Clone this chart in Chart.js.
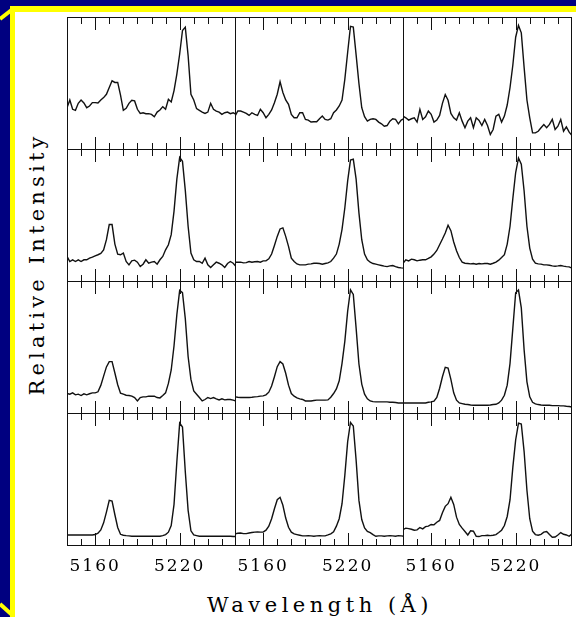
<!DOCTYPE html>
<html>
<head>
<meta charset="utf-8">
<script src="https://cdn.jsdelivr.net/npm/chart.js@4.4.1/dist/chart.umd.min.js"></script>
<style>
  html, body { margin: 0; padding: 0; }
  body { width: 576px; height: 617px; background: #000080; position: relative; overflow: hidden; }
  #frame { position: absolute; left: 10px; top: 6px; right: 0; bottom: 0; background: #ffff00; }
  #sheet { position: absolute; left: 15px; top: 12px; right: 0; bottom: 0; background: #ffffff; }
  .slash { position: absolute; height: 4px; background: #ffff00; transform-origin: 0 50%; }
  #panels { position: absolute; left: 67px; top: 17px; }
  #panels canvas { position: absolute; }
  .title { position: absolute; font-family: 'DejaVu Serif', serif; font-size: 21px; line-height: 1;
    white-space: nowrap; color: #000; }
  #ytitle { left: 37px; top: 264px; letter-spacing: 4.2px; transform: translate(-50%, -50%) rotate(-90deg); }
  #xtitle { left: 320px; top: 605px; letter-spacing: 4.5px; transform: translate(-50%, -50%); }
</style>
</head>
<body>
<div id="frame"></div>
<div id="sheet"></div>
<div class="slash" style="left:0;top:17px;width:15px;transform:rotate(-38deg)"></div>
<div class="slash" style="left:0;top:602px;width:16px;transform:rotate(42deg)"></div>
<div id="panels"></div>
<div class="title" id="ytitle">Relative Intensity</div>
<div class="title" id="xtitle">Wavelength (Å)</div>
<script>
'use strict'
//
;(function () {
  // wavelength grid (Å) shared by every panel
  const wavelengths = [
    5140, 5142, 5144, 5146, 5148, 5150, 5152, 5154, 5156, 5158,
    5160, 5162, 5164, 5166, 5168, 5170, 5172, 5174, 5176, 5178,
    5180, 5182, 5184, 5186, 5188, 5190, 5192, 5194, 5196, 5198,
    5200, 5202, 5204, 5206, 5208, 5210, 5212, 5214, 5216, 5218,
    5220, 5222, 5224, 5226, 5228, 5230, 5232, 5234, 5236, 5238,
    5240, 5242, 5244, 5246, 5248, 5250, 5252, 5254, 5256, 5258, 5260
  ]

  const minorTicks = [5150, 5160, 5170, 5180, 5190, 5200, 5210, 5220, 5230, 5240, 5250]
  const majorTicks = [5160, 5220]

  // relative intensity, row by row (top to bottom), column by column
  const r1c1 = [
    31.8, 37.6, 30.6, 29.8, 35.1, 37.6, 35.4, 31.8, 33.1, 35.6,
    35.6, 35.4, 37.6, 39.4, 41.9, 47.0, 52.0, 50.8, 50.8, 41.2,
    29.8, 31.3, 35.1, 37.4, 36.9, 30.6, 27.5, 28.0, 27.3, 27.3,
    26.8, 25.0, 28.5, 30.1, 32.6, 30.6, 38.1, 36.1, 44.7, 57.0,
    72.2, 89.9, 92.4, 71.0, 41.9, 37.6, 31.1, 29.8, 28.5, 27.5,
    28.5, 35.1, 30.6, 29.3, 28.5, 26.8, 28.0, 28.5, 27.3, 28.0, 26.8
  ]
  const r1c2 = [
    25.5, 29.3, 29.3, 28.5, 27.5, 26.0, 28.0, 26.8, 26.0, 30.6,
    28.0, 24.2, 26.8, 30.1, 35.6, 41.9, 51.3, 43.2, 37.6, 34.3,
    26.8, 24.2, 24.2, 28.0, 28.0, 23.0, 22.5, 21.0, 21.2, 21.2,
    23.5, 25.5, 23.0, 22.5, 23.5, 28.0, 30.1, 33.1, 37.6, 53.3,
    73.5, 92.9, 92.4, 71.5, 50.0, 31.8, 25.0, 21.7, 23.0, 23.5,
    23.0, 21.0, 19.7, 17.9, 18.4, 21.7, 23.5, 23.0, 19.7, 22.5, 23.5
  ]
  const r1c3 = [
    25.5, 24.2, 22.5, 23.5, 24.2, 21.0, 30.6, 23.0, 25.0, 29.3,
    26.8, 21.0, 22.5, 26.0, 35.1, 41.7, 37.4, 27.5, 24.2, 22.5,
    28.0, 21.7, 16.7, 21.7, 24.2, 16.7, 24.2, 22.2, 18.4, 23.0,
    18.4, 11.6, 15.4, 25.5, 26.8, 21.0, 25.5, 33.8, 47.0, 63.9,
    84.8, 93.7, 88.1, 62.1, 37.6, 24.2, 12.9, 12.9, 14.1, 16.7,
    19.2, 16.7, 19.2, 23.0, 15.4, 17.9, 23.0, 14.1, 17.4, 13.4, 10.9
  ]
  const r2c1 = [
    19.2, 15.4, 16.7, 15.4, 16.7, 15.4, 16.7, 16.7, 17.9, 18.7,
    19.7, 20.5, 21.5, 24.2, 31.8, 43.2, 43.2, 28.5, 21.0, 20.5,
    21.7, 15.4, 12.9, 15.9, 16.4, 14.9, 11.6, 13.4, 16.7, 14.1,
    14.9, 15.4, 13.4, 16.7, 19.2, 24.2, 28.0, 35.6, 53.3, 77.3,
    93.7, 90.7, 68.9, 41.9, 21.7, 16.7, 15.4, 15.4, 14.1, 17.9,
    12.9, 10.9, 12.9, 14.9, 14.1, 12.9, 10.9, 13.9, 15.4, 14.1, 11.6
  ]
  const r2c2 = [
    14.9, 14.9, 14.9, 14.4, 14.6, 15.4, 14.9, 15.2, 15.4, 14.9,
    15.9, 15.9, 17.4, 21.0, 27.5, 34.3, 39.9, 40.7, 34.3, 26.8,
    17.9, 15.4, 13.6, 12.9, 12.9, 12.9, 13.4, 13.6, 14.1, 14.1,
    13.9, 13.4, 13.9, 14.4, 15.4, 17.9, 21.0, 28.5, 39.6, 55.8,
    76.0, 91.7, 92.4, 77.3, 52.0, 31.8, 21.0, 16.7, 14.9, 13.9,
    13.4, 12.9, 12.4, 11.9, 11.6, 12.1, 12.4, 11.6, 10.9, 10.6, 10.4
  ]
  const r2c3 = [
    14.1, 16.7, 15.9, 17.2, 16.7, 15.9, 16.4, 16.7, 16.7, 17.7,
    18.9, 21.0, 23.7, 28.0, 32.3, 36.9, 42.7, 38.6, 30.1, 23.5,
    18.4, 14.9, 14.1, 13.9, 13.6, 13.9, 13.4, 13.9, 13.6, 13.9,
    13.9, 13.4, 14.1, 14.9, 16.4, 18.4, 20.5, 28.5, 41.9, 62.9,
    82.3, 93.2, 88.6, 68.4, 41.9, 25.5, 17.2, 14.1, 13.6, 13.4,
    12.9, 12.9, 12.6, 12.1, 11.9, 12.1, 12.4, 11.9, 11.6, 11.4, 10.4
  ]
  const r3c1 = [
    15.4, 14.9, 15.9, 14.4, 14.9, 13.9, 15.2, 14.4, 15.2, 15.9,
    15.9, 16.7, 21.5, 28.5, 35.4, 39.4, 39.4, 30.8, 22.0, 15.7,
    14.9, 14.1, 13.9, 13.4, 12.4, 9.8, 12.4, 12.9, 12.9, 13.4,
    13.4, 13.4, 12.4, 12.1, 13.9, 15.9, 23.0, 33.1, 51.3, 74.7,
    92.9, 91.2, 71.7, 43.2, 26.0, 17.4, 14.9, 12.4, 9.8, 10.9,
    12.4, 11.6, 12.4, 11.4, 10.6, 11.4, 10.6, 10.9, 10.9, 10.4, 9.8
  ]
  const r3c2 = [
    12.9, 12.6, 12.4, 12.4, 12.4, 12.4, 12.6, 12.9, 13.1, 13.4,
    13.6, 14.4, 16.4, 21.0, 28.0, 35.6, 39.4, 37.6, 30.6, 21.7,
    15.4, 13.4, 12.1, 11.4, 10.9, 9.8, 9.8, 9.8, 10.1, 10.4,
    10.4, 10.4, 10.4, 10.6, 12.6, 15.4, 18.9, 25.0, 38.1, 54.8,
    77.3, 93.4, 89.9, 64.6, 37.6, 22.5, 14.9, 11.4, 9.8, 9.3,
    9.1, 9.1, 9.1, 9.1, 9.1, 8.8, 8.8, 8.6, 8.3, 8.3, 8.3
  ]
  const r3c3 = [
    8.3, 8.3, 8.3, 8.3, 8.3, 8.3, 8.3, 8.3, 8.3, 8.8,
    9.1, 9.6, 12.4, 19.4, 28.0, 35.1, 34.6, 26.0, 15.9, 10.4,
    8.3, 7.8, 7.3, 7.1, 6.8, 6.6, 6.6, 6.6, 6.6, 6.6,
    6.6, 6.8, 7.1, 7.3, 8.3, 10.4, 14.1, 21.7, 38.1, 64.6,
    91.2, 93.2, 79.8, 48.2, 24.2, 12.9, 8.8, 7.6, 7.1, 6.8,
    6.6, 6.6, 6.6, 6.3, 6.3, 6.3, 6.1, 6.1, 5.8, 5.6, 5.3
  ]
  const r4c1 = [
    8.3, 8.3, 8.3, 8.3, 8.3, 8.3, 8.3, 8.3, 8.3, 8.3,
    8.6, 9.6, 12.1, 17.4, 25.5, 34.3, 33.8, 23.5, 13.9, 8.8,
    8.1, 7.8, 7.6, 7.3, 7.3, 7.3, 7.3, 7.3, 7.3, 7.3,
    7.3, 7.3, 7.3, 7.3, 7.8, 8.6, 10.4, 15.4, 31.3, 63.4,
    92.4, 89.4, 55.8, 26.8, 11.4, 8.3, 7.8, 7.3, 7.3, 7.3,
    7.3, 7.3, 7.3, 7.3, 7.3, 7.3, 7.3, 7.3, 7.3, 7.1, 7.1
  ]
  const r4c2 = [
    9.1, 9.6, 9.8, 9.3, 9.3, 9.8, 10.1, 10.4, 10.6, 10.4,
    10.4, 11.9, 14.9, 20.5, 28.0, 34.8, 36.6, 30.6, 21.0, 14.1,
    10.4, 9.1, 8.6, 8.1, 7.6, 7.6, 7.8, 7.6, 7.3, 7.6,
    7.8, 7.6, 7.6, 8.3, 9.1, 10.6, 14.9, 20.5, 31.8, 53.3,
    78.5, 92.9, 90.2, 64.6, 34.3, 19.9, 13.6, 10.9, 10.1, 8.6,
    7.3, 7.6, 7.6, 7.3, 7.6, 7.8, 7.6, 7.3, 7.8, 7.6, 7.3
  ]
  const r4c3 = [
    12.4, 13.4, 13.1, 12.6, 11.9, 12.1, 13.9, 12.9, 14.6, 14.9,
    16.2, 15.9, 17.9, 19.2, 25.0, 29.8, 31.8, 36.6, 31.3, 21.7,
    16.2, 13.4, 10.9, 8.3, 11.4, 11.1, 7.3, 7.1, 7.8, 7.8,
    8.1, 7.8, 8.1, 8.6, 10.1, 11.9, 15.4, 22.2, 34.8, 59.3,
    79.8, 92.4, 91.7, 71.0, 41.9, 20.5, 11.1, 8.6, 8.1, 8.8,
    10.4, 10.9, 8.6, 6.6, 6.8, 8.3, 10.1, 8.8, 8.3, 7.3, 9.1
  ]

  const panels = [
    [r1c1, r1c2, r1c3],
    [r2c1, r2c2, r2c3],
    [r3c1, r3c2, r3c3],
    [r4c1, r4c2, r4c3]
  ]

  const PANEL_W = 168
  const PANEL_H = 132
  const AXIS_H = 32
  const serif = 'DejaVu Serif'

  // box + inward tick marks on top and bottom edges of every panel
  const frameTicks = {
    id: 'frameTicks',
    beforeDraw(chart) {
      chart.ctx.letterSpacing = '2px'
    },
    afterDraw(chart) {
      const { ctx, chartArea: a, scales: { x } } = chart
      ctx.save()
      ctx.strokeStyle = '#111'
      ctx.lineWidth = 1
      ctx.strokeRect(a.left + 0.5, a.top + 0.5, a.width - 1, a.height - 1)
      ctx.beginPath()
      minorTicks.forEach((v) => {
        const px = Math.round(x.getPixelForValue(v)) + 0.5
        const len = majorTicks.includes(v) ? 13 : 7
        ctx.moveTo(px, a.top)
        ctx.lineTo(px, a.top + len)
        ctx.moveTo(px, a.bottom)
        ctx.lineTo(px, a.bottom - len)
      })
      ctx.stroke()
      ctx.restore()
    }
  }

  const holder = document.getElementById('panels')

  panels.forEach((row, r) => {
    row.forEach((values, c) => {
      const isBottom = r === panels.length - 1
      const canvas = document.createElement('canvas')
      canvas.width = PANEL_W + 1
      canvas.height = PANEL_H + 1 + (isBottom ? AXIS_H : 0)
      canvas.style.left = c * PANEL_W + 'px'
      canvas.style.top = r * PANEL_H + 'px'
      holder.appendChild(canvas)

      new Chart(canvas, {
        type: 'line',
        data: {
          datasets: [
            {
              data: wavelengths.map((w, i) => ({ x: w, y: values[i] })),
              borderColor: '#111',
              borderWidth: 1.4,
              pointRadius: 0,
              tension: 0
            }
          ]
        },
        options: {
          responsive: false,
          animation: false,
          events: [],
          layout: { padding: 0 },
          plugins: {
            legend: { display: false },
            tooltip: { enabled: false }
          },
          scales: {
            x: {
              type: 'linear',
              min: 5140,
              max: 5260,
              display: isBottom,
              afterFit(scale) {
                if (isBottom) scale.height = AXIS_H
              },
              grid: { display: false, drawTicks: false },
              border: { display: false },
              ticks: {
                stepSize: 10,
                autoSkip: false,
                maxRotation: 0,
                padding: 0,
                color: '#000',
                // tall line box pushes the labels down below the frame
                font: { family: serif, size: 17, lineHeight: '42px' },
                callback: (v) => (majorTicks.includes(Math.round(v)) ? String(Math.round(v)) : '')
              }
            },
            y: { min: 0, max: 100, display: false }
          }
        },
        plugins: [frameTicks]
      })
    })
  })
})()
</script>
</body>
</html>
